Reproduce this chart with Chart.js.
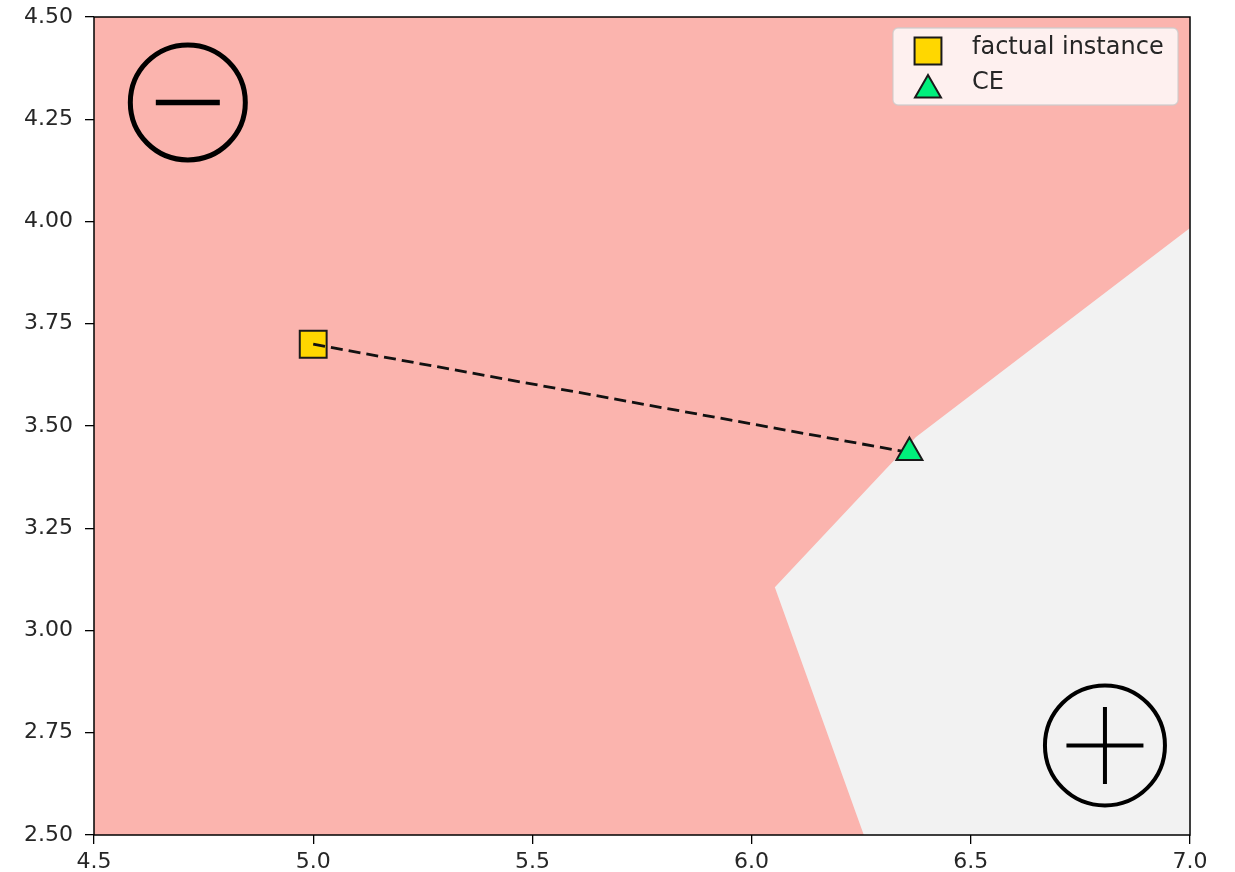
<!DOCTYPE html>
<html>
<head>
<meta charset="utf-8">
<script src="https://cdn.jsdelivr.net/npm/chart.js@4/dist/chart.umd.min.js"></script>
<style>
  html, body { margin: 0; padding: 0; background: #ffffff; }
  #wrap { width: 1235px; height: 872px; position: relative; }
</style>
</head>
<body>
<div id="wrap"><canvas id="c" width="1235" height="872"></canvas></div>
<script>
// Axis ranges and tick positions
const xTicks = [4.5, 5.0, 5.5, 6.0, 6.5, 7.0];
const yTicks = [2.5, 2.75, 3.0, 3.25, 3.5, 3.75, 4.0, 4.25, 4.5];

// Decision boundary between the negative and positive regions (x, y pairs)
const boundaryX = [6.256, 6.053, 6.375, 7.0];
const boundaryY = [2.5, 3.106, 3.473, 3.984];

// Factual instance and its counterfactual explanation
const factualX = [5.0];
const factualY = [3.70];
const ceX = [6.36];
const ceY = [3.435];

// Class symbols placed in each region
const minusX = [4.714];
const minusY = [4.291];
const plusX = [6.806];
const plusY = [2.719];

const NEG_COLOR = '#fbb4ae';
const POS_COLOR = '#f2f2f2';
const FONT = '"DejaVu Sans", sans-serif';

const toPts = (xs, ys) => xs.map((x, i) => ({ x: x, y: ys[i] }));

// Positive region: boundary, then down the right edge to the bottom-right corner
const posRegion = toPts(boundaryX, boundaryY);
posRegion.push({ x: xTicks[xTicks.length - 1], y: yTicks[0] });
posRegion.push({ x: boundaryX[0], y: boundaryY[0] });

// Negative region covers the whole plotting range underneath
const xMin = xTicks[0], xMax = xTicks[xTicks.length - 1];
const yMin = yTicks[0], yMax = yTicks[yTicks.length - 1];
const negRegion = [
  { x: xMin, y: yMin }, { x: xMin, y: yMax }, { x: xMax, y: yMax },
  { x: xMax, y: yMin }, { x: xMin, y: yMin }
];

const pathPts = [
  { x: factualX[0], y: factualY[0] },
  { x: ceX[0], y: ceY[0] }
];

// Frame around the plotting area (all four spines)
const framePlugin = {
  id: 'frame',
  afterDatasetsDraw(chart) {
    const a = chart.chartArea, ctx = chart.ctx;
    ctx.save();
    ctx.strokeStyle = '#000';
    ctx.lineWidth = 1.5;
    ctx.strokeRect(a.left, a.top, a.right - a.left, a.bottom - a.top);
    ctx.restore();
  }
};

// Legend box in the upper right of the plotting area
const keyPlugin = {
  id: 'keyBox',
  afterDraw(chart) {
    const ctx = chart.ctx, a = chart.chartArea;
    const items = chart.data.datasets.filter(d => d.inKey);
    const w = 285, h = 77;
    const x0 = a.right - 12 - w, y0 = a.top + 11;
    ctx.save();
    ctx.beginPath();
    ctx.roundRect(x0, y0, w, h, 5);
    ctx.fillStyle = 'rgba(255,255,255,0.8)';
    ctx.fill();
    ctx.strokeStyle = 'rgba(204,204,204,0.8)';
    ctx.lineWidth = 1.3;
    ctx.stroke();
    ctx.font = '24px ' + FONT;
    ctx.textBaseline = 'middle';
    ctx.textAlign = 'left';
    items.forEach((d, i) => {
      const cy = y0 + 23 + i * 35;
      const mx = x0 + 35;
      ctx.fillStyle = d.backgroundColor;
      ctx.strokeStyle = d.borderColor;
      ctx.lineWidth = d.borderWidth;
      Chart.helpers.drawPoint(ctx, {
        pointStyle: d.pointStyle, radius: d.pointRadius,
        borderWidth: d.borderWidth, rotation: 0
      }, mx, cy + (d.pointStyle === 'triangle' ? 4 : 0));
      ctx.fillStyle = '#262626';
      ctx.fillText(d.label, x0 + 79, cy - 3);
    });
    ctx.restore();
  }
};

const cfg = {
  type: 'scatter',
  data: {
    datasets: [
      {
        label: 'negative region', data: negRegion, showLine: true, fill: 'shape',
        backgroundColor: NEG_COLOR, borderColor: 'transparent', borderWidth: 0,
        pointRadius: 0, tension: 0, order: 10
      },
      {
        label: 'positive region', data: posRegion, showLine: true, fill: 'shape',
        backgroundColor: POS_COLOR, borderColor: 'transparent', borderWidth: 0,
        pointRadius: 0, tension: 0, order: 9
      },
      {
        label: 'minus circle', data: toPts(minusX, minusY), pointStyle: 'circle',
        pointRadius: 57.5, borderWidth: 5, borderColor: '#000',
        backgroundColor: 'transparent', order: 8
      },
      {
        label: 'minus sign', data: toPts(minusX, minusY), pointStyle: 'line',
        pointRadius: 32, borderWidth: 5.5, borderColor: '#000',
        backgroundColor: 'transparent', order: 8
      },
      {
        label: 'plus circle', data: toPts(plusX, plusY), pointStyle: 'circle',
        pointRadius: 60, borderWidth: 4, borderColor: '#000',
        backgroundColor: 'transparent', order: 8
      },
      {
        label: 'plus sign', data: toPts(plusX, plusY), pointStyle: 'cross',
        pointRadius: 38.5, borderWidth: 4, borderColor: '#000',
        backgroundColor: 'transparent', order: 8
      },
      {
        label: 'factual instance', data: toPts(factualX, factualY), inKey: true,
        pointStyle: 'rect', pointRadius: 19, borderWidth: 2,
        backgroundColor: '#ffd700', borderColor: '#1a1a1a', order: 5
      },
      {
        label: 'path', data: pathPts, showLine: true, fill: false,
        borderColor: '#111', borderWidth: 2.8, borderDash: [12, 6],
        pointRadius: 0, order: 4
      },
      {
        label: 'CE', data: toPts(ceX, ceY), inKey: true,
        pointStyle: 'triangle', pointRadius: 15, borderWidth: 2,
        backgroundColor: '#00f07c', borderColor: '#1a1a1a', order: 3
      }
    ]
  },
  options: {
    responsive: false,
    animation: false,
    devicePixelRatio: 1,
    events: [],
    layout: { autoPadding: false, padding: { top: 17, right: 45, left: 0, bottom: 0 } },
    plugins: {
      legend: { display: false },
      tooltip: { enabled: false }
    },
    scales: {
      x: {
        type: 'linear', min: xMin, max: xMax,
        afterBuildTicks: s => { s.ticks = xTicks.map(v => ({ value: v })); },
        afterFit: s => { s.height = 37; s.paddingLeft = 0; s.paddingRight = 0; },
        ticks: {
          callback: v => Number(v).toFixed(1),
          font: { family: FONT, size: 22 }, color: '#262626',
          padding: 5, maxRotation: 0, autoSkip: false
        },
        grid: {
          display: true, drawOnChartArea: false, drawTicks: true,
          tickLength: 9, color: '#000', lineWidth: 1.3
        },
        border: { display: false }
      },
      y: {
        type: 'linear', min: yMin, max: yMax,
        afterBuildTicks: s => { s.ticks = yTicks.map(v => ({ value: v })); },
        afterFit: s => { s.width = 94; s.paddingTop = 0; s.paddingBottom = 0; },
        ticks: {
          callback: v => Number(v).toFixed(2),
          font: { family: FONT, size: 22 }, color: '#262626',
          padding: 12, autoSkip: false
        },
        grid: {
          display: true, drawOnChartArea: false, drawTicks: true,
          tickLength: 9, color: '#000', lineWidth: 1.3
        },
        border: { display: false }
      }
    }
  },
  plugins: [framePlugin, keyPlugin]
};

new Chart(document.getElementById('c'), cfg);
</script>
</body>
</html>
